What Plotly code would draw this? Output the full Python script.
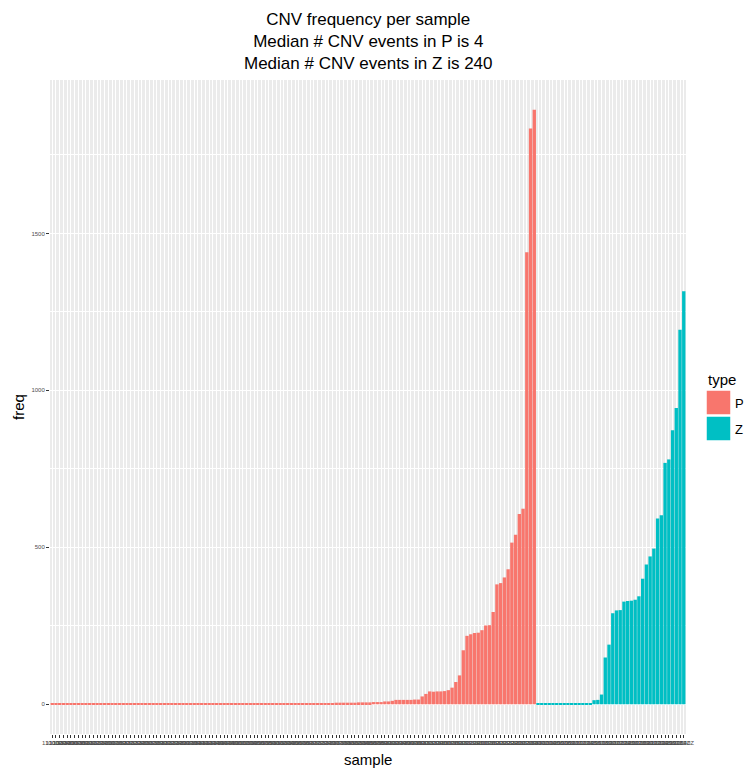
import plotly.graph_objects as go

# ---- data ----
p_freq = ([1] * 30 + [2] * 18 + [3] * 16 + [4] * 12 + [5] * 6 + [6] * 4 + [7] * 3
          + [9, 9, 11, 14, 14, 14, 14, 14, 15, 15]
          + [25, 33, 41, 40, 41, 41, 42, 45, 53, 71, 92, 172, 218, 223, 227, 228, 236,
             251, 252, 294, 382, 386, 404, 430, 515, 540, 606, 623, 1440, 1834, 1894])
z_freq = ([1] * 6 + [2] * 6
          + [2, 3, 3, 13, 14, 31, 149, 190, 290, 299, 300, 327, 329, 330, 333, 344,
             400, 445, 471, 496, 592, 602, 769, 780, 873, 944, 1193, 1316])
p_samples = ["11%03dP" % (i + 1) for i in range(len(p_freq))]
z_samples = ["12%03dZ" % (i + 1) for i in range(len(z_freq))]
types = ["P", "Z"]
colors = {"P": "#F8766D", "Z": "#00BFC4"}
y_ticks = [0, 500, 1000, 1500]
title_lines = ["CNV frequency per sample", "Median # CNV events in P is 4", "Median # CNV events in Z is 240"]

all_samples = p_samples + z_samples
n = len(all_samples)
ymax = max(p_freq + z_freq)
pad = ymax * 0.05

W, H = 745, 770
ML, MR, MT, MB = 50, 59, 80, 36
PW, PH = W - ML - MR, H - MT - MB


def px_x(x):
    return (x - ML) / PW


def px_y(y):
    return (H - MB - y) / PH


fig = go.Figure()
fig.add_trace(go.Bar(x=p_samples, y=p_freq, name="P", marker=dict(color=colors["P"], line=dict(width=0)),
                     showlegend=False))
fig.add_trace(go.Bar(x=z_samples, y=z_freq, name="Z", marker=dict(color=colors["Z"], line=dict(width=0)),
                     showlegend=False))

font = "Liberation Sans, Arial, Helvetica, sans-serif"

fig.update_layout(
    width=W, height=H,
    margin=dict(l=ML, r=MR, t=MT, b=MB, autoexpand=False),
    paper_bgcolor="white",
    plot_bgcolor="#EBEBEB",
    barmode="relative",
    bargap=0.1,
    font=dict(family=font, color="black"),
    xaxis=dict(
        type="category", categoryorder="array", categoryarray=all_samples,
        range=[-0.6, n - 1 + 0.6],
        tickmode="array", tickvals=all_samples, ticktext=all_samples, tickangle=0,
        tickfont=dict(size=6, color="#4D4D4D"),
        ticks="outside", ticklen=3, tickwidth=1, tickcolor="#333333",
        showgrid=True, gridcolor="white", gridwidth=1.3,
        zeroline=False, showline=False, automargin=False,
    ),
    yaxis=dict(
        range=[-pad, ymax + pad],
        tickmode="array", tickvals=y_ticks, ticktext=[str(v) for v in y_ticks],
        tickfont=dict(size=6, color="#4D4D4D"),
        ticks="outside", ticklen=3, tickwidth=1, tickcolor="#333333",
        showgrid=True, gridcolor="white", gridwidth=1.3,
        minor=dict(dtick=250, tick0=250, showgrid=True, gridcolor="white", gridwidth=0.6, ticks=""),
        zeroline=False, showline=False, automargin=False,
    ),
)

annotations = [
    dict(text="<br>".join(title_lines), x=px_x(368), y=px_y(8), xref="paper", yref="paper",
         showarrow=False, font=dict(size=17, color="black"), xanchor="center", yanchor="top", align="center"),
    dict(text="freq", x=px_x(18), y=0.5, xref="paper", yref="paper", showarrow=False, textangle=-90,
         font=dict(size=15, color="black"), xanchor="center", yanchor="middle"),
    dict(text="sample", x=0.5, y=px_y(760), xref="paper", yref="paper", showarrow=False,
         font=dict(size=15, color="black"), xanchor="center", yanchor="middle"),
    dict(text="type", x=px_x(706), y=px_y(379), xref="paper", yref="paper", showarrow=False,
         font=dict(size=15, color="black"), xanchor="left", yanchor="middle"),
]
shapes = []
key_top = 390
for k, t in enumerate(types):
    y0 = key_top + k * 26
    shapes.append(dict(type="rect", xref="paper", yref="paper",
                       x0=px_x(706), x1=px_x(731), y0=px_y(y0), y1=px_y(y0 + 25),
                       fillcolor=colors[t], line=dict(color="white", width=1.5)))
    annotations.append(dict(text=t, x=px_x(733), y=px_y(y0 + 13), xref="paper", yref="paper",
                            showarrow=False, font=dict(size=13, color="black"),
                            xanchor="left", yanchor="middle"))
fig.update_layout(annotations=annotations, shapes=shapes)

fig.write_html("out.html")
